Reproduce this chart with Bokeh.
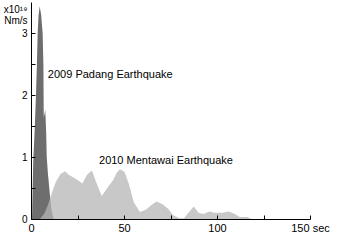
from bokeh.plotting import figure
from bokeh.models import Range1d, Label, FixedTicker
from bokeh.embed import file_html
from bokeh.resources import INLINE

padang_t = [0, 0.3, 0.6, 1.0, 1.5, 1.9, 2.4, 2.9, 3.3, 3.8, 4.4, 5.2, 6.0, 6.4, 6.5, 6.6,
            7.0, 7.4, 7.9, 8.2, 8.8, 9.5, 10.2, 10.9, 11.9]
padang_v = [0, 0.05, 0.5, 1.0, 1.3, 1.6, 2.0, 2.5, 3.0, 3.3, 3.44, 3.3, 3.0, 2.5, 2.0, 1.65,
            1.7, 1.77, 1.4, 1.01, 0.75, 0.53, 0.3, 0.13, 0]

mentawai_t = [3.5, 5, 7, 9, 11, 13, 15.5, 18, 20, 23.5, 27.4, 29.8, 32.5, 34.5, 37.8, 41,
              44, 45.6, 47.5, 50, 52.4, 55, 58.3, 61.7, 64.3, 67.2, 70.2, 73.6, 76.2, 79.6,
              82, 84.7, 87.2, 89.8, 92.3, 95.8, 98.3, 102.6, 106, 109.4, 111.9, 116.2,
              118.7, 120]
mentawai_v = [0, 0.02, 0.1, 0.25, 0.43, 0.6, 0.73, 0.78, 0.72, 0.66, 0.58, 0.72, 0.79, 0.62,
              0.38, 0.52, 0.64, 0.74, 0.81, 0.77, 0.57, 0.28, 0.12, 0.16, 0.23, 0.29, 0.25,
              0.17, 0.07, 0.02, 0.02, 0.12, 0.21, 0.11, 0.09, 0.13, 0.11, 0.11, 0.13, 0.09,
              0.04, 0.04, 0, 0]

x_ticks = [0, 50, 100, 150]
x_labels = {150: "150 sec"}
y_ticks = [0, 1, 2, 3]
unit_pos = 3.3
unit_text = "x10\u00b9\u2079\nNm/s"

FONT = "Liberation Sans"

p = figure(width=334, height=236, output_backend="svg", toolbar_location=None,
           x_range=Range1d(0, 150), y_range=Range1d(0, 3.5),
           min_border_left=0, min_border_right=24, min_border_top=2, min_border_bottom=0)
p.outline_line_color = None
p.xgrid.visible = False
p.ygrid.visible = False

p.varea(x=padang_t, y1=0, y2=padang_v, fill_color="#6e6e6e")
p.varea(x=mentawai_t, y1=0, y2=mentawai_v, fill_color="#b6b6b6", fill_alpha=0.75)

for ax in (p.xaxis[0], p.yaxis[0]):
    ax.axis_line_color = "black"
    ax.major_tick_in = 4
    ax.major_tick_out = 0
    ax.minor_tick_in = 4
    ax.minor_tick_out = 0
    ax.major_tick_line_color = "black"
    ax.minor_tick_line_color = "black"
    ax.major_label_text_font = FONT
    ax.major_label_text_color = "black"

p.xaxis[0].major_label_text_font_size = "11px"
p.xaxis[0].major_label_standoff = 2
p.xaxis[0].ticker = FixedTicker(ticks=x_ticks, minor_ticks=[25, 75, 125])
p.xaxis[0].major_label_overrides = x_labels

# y axis: tick marks drawn as minor ticks (integers and halves); the major ticks only
# carry the labels, including the unit label near the top of the axis
yax = p.yaxis[0]
yax.major_label_text_font_size = "10px"
yax.major_label_text_line_height = 1.0
yax.major_label_standoff = 4
yax.major_tick_line_color = None
yax.ticker = FixedTicker(ticks=y_ticks + [unit_pos],
                         minor_ticks=[0, 0.5, 1, 1.5, 2, 2.5, 3])
yax.major_label_overrides = {unit_pos: unit_text}

p.add_layout(Label(x=8.8, y=2.34, text="2009 Padang Earthquake", text_align="left",
                   text_baseline="middle", text_font=FONT, text_font_size="11px",
                   text_color="black"))
p.add_layout(Label(x=36.3, y=0.96, text="2010 Mentawai Earthquake", text_align="left",
                   text_baseline="middle", text_font=FONT, text_font_size="11px",
                   text_color="black"))

open("out.html", "w").write(file_html(p, INLINE))
